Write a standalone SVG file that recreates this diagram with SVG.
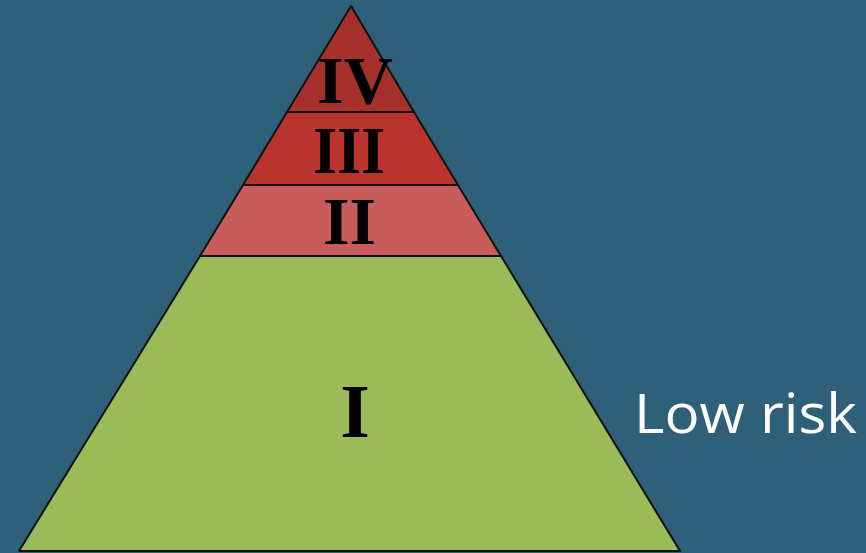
<svg xmlns="http://www.w3.org/2000/svg" width="866" height="553" viewBox="0 0 866 553">
<style>
.lvl{stroke:#111;stroke-width:2;stroke-linejoin:round}
.num{font-family:"Liberation Serif","Times New Roman",serif;font-weight:bold;fill:#000;text-anchor:middle}
.lbl{font-family:"Open Sans","Liberation Sans",sans-serif;fill:#fff}
</style>
<rect width="866" height="553" fill="#2f6079"/>
<g id="level-I">
<polygon class="lvl" points="200,256 501,256 680,551 19,551" fill="#9bbb59"/>
<text class="num" x="355" y="437" font-size="76">I</text>
</g>
<g id="level-II">
<polygon class="lvl" points="243,185 458,185 501,256 200,256" fill="#c85c5a"/>
<text class="num" x="349.5" y="244" font-size="68">II</text>
</g>
<g id="level-III">
<polygon class="lvl" points="287,112 414,112 458,185 243,185" fill="#b9332f"/>
<text class="num" x="349" y="173" font-size="68" textLength="72" lengthAdjust="spacingAndGlyphs">III</text>
</g>
<g id="level-IV">
<polygon class="lvl" points="351,6 414,112 287,112" fill="#a6302c"/>
<text class="num" x="355" y="103" font-size="68">IV</text>
</g>
<g id="label">
<text class="lbl" x="634" y="433" font-size="55" textLength="223" lengthAdjust="spacingAndGlyphs">Low risk</text>
</g>
<g id="connectors"/>
</svg>
